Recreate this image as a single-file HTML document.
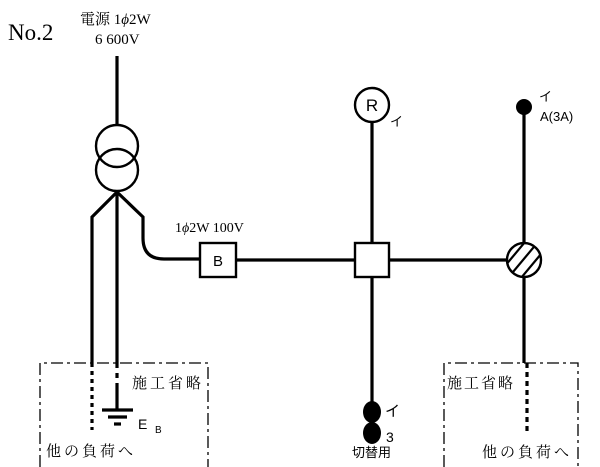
<!DOCTYPE html>
<html><head><meta charset="utf-8"><style>
body{margin:0;background:#fff;width:600px;height:467px;overflow:hidden}
svg{display:block}
.s{font-family:"Liberation Serif","Noto Serif CJK SC",serif}
.j{font-family:"Liberation Sans","Noto Sans CJK JP",sans-serif}
.m{font-family:"Liberation Serif","Noto Serif CJK SC",serif}
</style></head><body>
<svg width="600" height="467" viewBox="0 0 600 467">
<defs><clipPath id="hc"><circle cx="524" cy="260" r="17"/></clipPath></defs>
<g fill="none" stroke="#000">
<path d="M40 467 V363 H208 V467" stroke-width="1.3" stroke-dasharray="12,4,3,4"/>
<path d="M444 467 V363 H578 V467" stroke-width="1.3" stroke-dasharray="12,4,3,4"/>
<g stroke-width="3.2">
<line x1="117" y1="56" x2="117" y2="124"/>
<circle cx="117" cy="146" r="21" stroke-width="2.4"/>
<circle cx="117" cy="170" r="21" stroke-width="2.4"/>
<path d="M117 192 L92 217 V363"/>
<line x1="117" y1="192" x2="117" y2="363"/>
<path d="M117 192 L143 217 V238 Q143 259 164 259 H200"/>
<line x1="92" y1="363" x2="92" y2="430" stroke-dasharray="4,4"/>
<line x1="117" y1="363" x2="117" y2="388" stroke-dasharray="5,5"/>
<line x1="117" y1="388" x2="117" y2="410"/>
<line x1="102" y1="410" x2="133" y2="410"/>
<line x1="108" y1="417" x2="127" y2="417"/>
<line x1="114" y1="424" x2="121" y2="424"/>
<line x1="236" y1="260" x2="355" y2="260"/>
<line x1="389" y1="260" x2="507" y2="260"/>
<line x1="372" y1="122" x2="372" y2="243"/>
<line x1="372" y1="277" x2="372" y2="405"/>
<line x1="524" y1="110" x2="524" y2="243"/>
<line x1="524" y1="277" x2="524" y2="363"/>
<line x1="527" y1="363" x2="527" y2="432" stroke-dasharray="5,4"/>
</g>
<rect x="200" y="243" width="36" height="34" stroke-width="2.4"/>
<rect x="355" y="243" width="34" height="34" stroke-width="2.4"/>
<circle cx="372" cy="105" r="17" stroke-width="2.4"/>
<g clip-path="url(#hc)" stroke-width="2.2">
<line x1="500" y1="272" x2="530" y2="236"/><line x1="508" y1="278" x2="538" y2="242"/><line x1="516" y1="284" x2="546" y2="248"/><line x1="492" y1="266" x2="522" y2="230"/>
</g>
<circle cx="524" cy="260" r="17" stroke-width="2.4"/>
</g>
<circle cx="524" cy="107" r="8"/>
<ellipse cx="372" cy="412" rx="9" ry="11"/>
<ellipse cx="372" cy="433" rx="9" ry="11"/>
<text x="8" y="40" class="s" font-size="23">No.2</text>
<text x="80" y="24" class="s" font-size="15">電源 1<tspan font-style="italic">ϕ</tspan>2W</text>
<text x="95" y="44" class="s" font-size="15">6 600V</text>
<text x="175" y="232" class="s" font-size="14">1<tspan font-style="italic">ϕ</tspan>2W 100V</text>
<text x="218" y="266" class="j" font-size="15" text-anchor="middle">B</text>
<text x="372" y="111" class="j" font-size="17" text-anchor="middle">R</text>
<text x="390" y="126" class="j" font-size="13">イ</text>
<text x="539" y="101" class="j" font-size="13">イ</text>
<text x="540" y="121" class="j" font-size="13">A(3A)</text>
<text x="385" y="416" class="j" font-size="15">イ</text>
<text x="386" y="442" class="j" font-size="14">3</text>
<text x="352" y="457" class="j" font-size="13">切替用</text>
<text x="138" y="429" class="j" font-size="14">E</text>
<text x="155" y="433" class="j" font-size="10">B</text>
<text x="132" y="388" class="m" font-size="15" letter-spacing="3">施工省略</text>
<text x="46" y="456" class="m" font-size="15" letter-spacing="3">他の負荷へ</text>
<text x="447" y="388" class="m" font-size="15" letter-spacing="2">施工省略</text>
<text x="482" y="457" class="m" font-size="15" letter-spacing="3">他の負荷へ</text>
</svg>
</body></html>
